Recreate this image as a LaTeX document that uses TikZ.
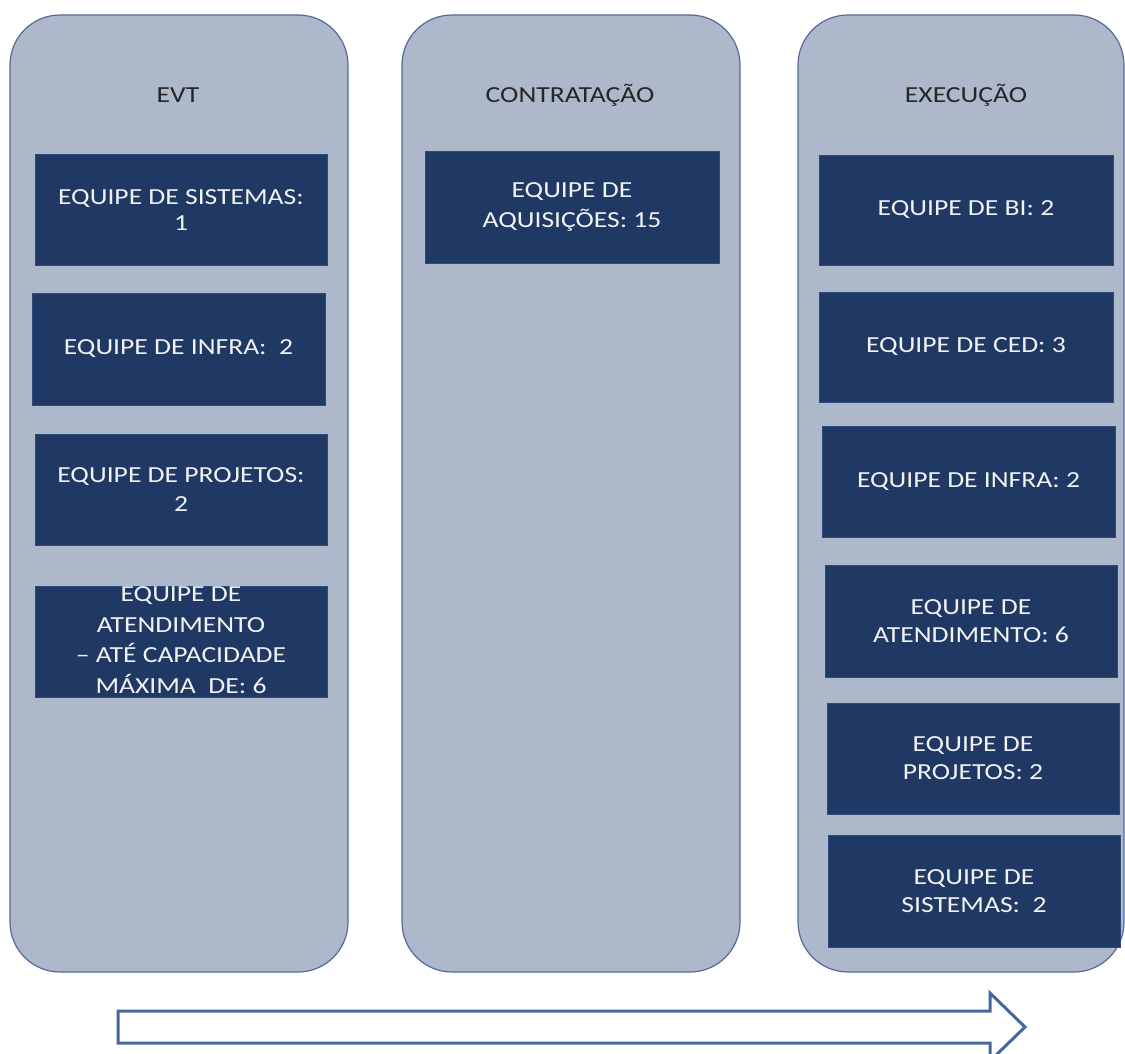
\documentclass[tikz,border=0pt]{standalone}
\usepackage{fontspec}
\setmainfont{Carlito}[FakeStretch=1.2]
\definecolor{colfill}{HTML}{ADB9CA}
\definecolor{colborder}{HTML}{56699A}
\definecolor{boxfill}{HTML}{1F3864}
\definecolor{boxborder}{HTML}{2E4B7E}
\definecolor{arrowblue}{HTML}{44679F}
\definecolor{headtext}{HTML}{262626}
\begin{document}
\begin{tikzpicture}[x=1pt,y=-1pt,
  column/.style={draw=colborder, fill=colfill, line width=1.2pt, rounded corners=50pt,
    inner sep=0pt, minimum height=957pt},
  header/.style={anchor=base, text=headtext, font=\fontsize{23}{28}\selectfont, inner sep=0pt},
  teambox/.style={draw=boxborder, fill=boxfill, line width=0.8pt, inner sep=0pt,
    minimum width=292pt, minimum height=111pt, align=center, text=white!95!black,
    font=\fontsize{23}{29}\selectfont},
  overtext/.style={align=center, text=white!95!black, inner sep=0pt,
    font=\fontsize{23}{30.5}\selectfont},
  bigarrow/.style={draw=arrowblue, fill=white, line width=3pt, line join=miter}
]
\useasboundingbox (0,0) rectangle (1125,1054);
\clip (0,0) rectangle (1125,1054);

% columns
\node[column, minimum width=338pt] (c1) at (179,493.5) {};
\node[column, minimum width=338pt] (c2) at (571,493.5) {};
\node[column, minimum width=326pt] (c3) at (961,493.5) {};

% headers
\node[header] (h1) at (178,103) {EVT};
\node[header] (h2) at (570,103) {CONTRATAÇÃO};
\node[header] (h3) at (966,103) {EXECUÇÃO};

% EVT column
\node[teambox, font=\fontsize{23}{26}\selectfont] (e1) at (181,210) {EQUIPE DE SISTEMAS:\\1};
\node[teambox, minimum width=293pt, minimum height=112pt] (e2) at (178.5,349) {EQUIPE DE INFRA:\ \ 2};
\node[teambox] (e3) at (181,489.5) {EQUIPE DE PROJETOS:\\2};
\node[teambox] (e4) at (181,641.5) {};
\node[overtext] (e4t) at (181,640) {EQUIPE DE\\ATENDIMENTO\\– ATÉ CAPACIDADE\\MÁXIMA\ \ DE: 6};

% CONTRATACAO column
\node[teambox, minimum width=294pt, minimum height=112pt, font=\fontsize{23}{30}\selectfont] (a1) at (572,207) {EQUIPE DE\\AQUISIÇÕES: 15};

% EXECUCAO column
\node[teambox, minimum width=294pt, minimum height=110pt] (x1) at (966,210) {EQUIPE DE BI: 2};
\node[teambox, minimum width=294pt, minimum height=110pt] (x2) at (966,347) {EQUIPE DE CED: 3};
\node[teambox, minimum width=293pt] (x3) at (968.5,481.5) {EQUIPE DE INFRA: 2};
\node[teambox, minimum height=112pt, font=\fontsize{23}{28}\selectfont] (x4) at (971,621) {EQUIPE DE\\ATENDIMENTO: 6};
\node[teambox, font=\fontsize{23}{28}\selectfont] (x5) at (973,758.5) {EQUIPE DE\\PROJETOS: 2};
\node[teambox, minimum height=112pt, font=\fontsize{23}{28}\selectfont] (x6) at (974,891) {EQUIPE DE\\SISTEMAS:\ \ 2};

% timeline arrow
\draw[bigarrow] (118,1011) -- (990,1011) -- (990,993) -- (1025,1027) -- (990,1061)
  -- (990,1043) -- (118,1043) -- cycle;
\end{tikzpicture}
\end{document}
